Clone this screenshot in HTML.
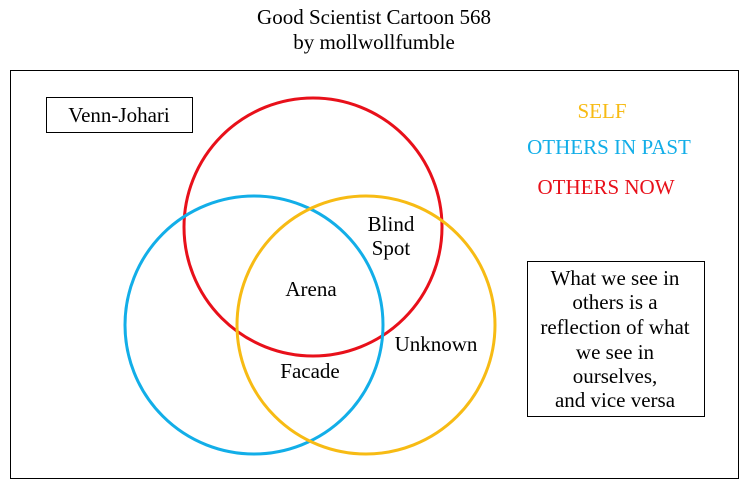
<!DOCTYPE html>
<html><head><meta charset="utf-8"><style>
body{margin:0;background:#fff;}
svg text{font-family:"Liberation Serif",serif;font-size:21px;}
</style></head><body>
<svg width="748" height="486" xmlns="http://www.w3.org/2000/svg">
<rect width="748" height="486" fill="#fff"/>
<text x="374" y="24" text-anchor="middle">Good Scientist Cartoon 568</text>
<text x="374" y="49" text-anchor="middle">by mollwollfumble</text>
<rect x="10.5" y="70.5" width="728" height="408" fill="none" stroke="#000" stroke-width="1"/>
<rect x="46.5" y="97.5" width="146" height="35" fill="none" stroke="#000"/>
<text x="119" y="122" text-anchor="middle">Venn-Johari</text>
<circle cx="313" cy="227" r="129" fill="none" stroke="#e8101a" stroke-width="3"/>
<circle cx="254" cy="325" r="129" fill="none" stroke="#12aee8" stroke-width="3"/>
<circle cx="366" cy="325" r="129" fill="none" stroke="#f7bb14" stroke-width="3"/>
<text x="391" y="231" text-anchor="middle">Blind</text>
<text x="391" y="255" text-anchor="middle">Spot</text>
<text x="311" y="296" text-anchor="middle">Arena</text>
<text x="436" y="351" text-anchor="middle">Unknown</text>
<text x="310" y="378" text-anchor="middle">Facade</text>
<text x="602" y="118" text-anchor="middle" fill="#f7bb14">SELF</text>
<text x="609" y="154" text-anchor="middle" fill="#12aee8">OTHERS IN PAST</text>
<text x="606" y="194" text-anchor="middle" fill="#e8101a">OTHERS NOW</text>
<rect x="527.5" y="261.5" width="177" height="155" fill="none" stroke="#000"/>
<text x="615" y="285" text-anchor="middle">What we see in</text>
<text x="615" y="309" text-anchor="middle">others is a</text>
<text x="615" y="334" text-anchor="middle">reflection of what</text>
<text x="615" y="359" text-anchor="middle">we see in</text>
<text x="615" y="383" text-anchor="middle">ourselves,</text>
<text x="615" y="407" text-anchor="middle">and vice versa</text>
</svg>
</body></html>
